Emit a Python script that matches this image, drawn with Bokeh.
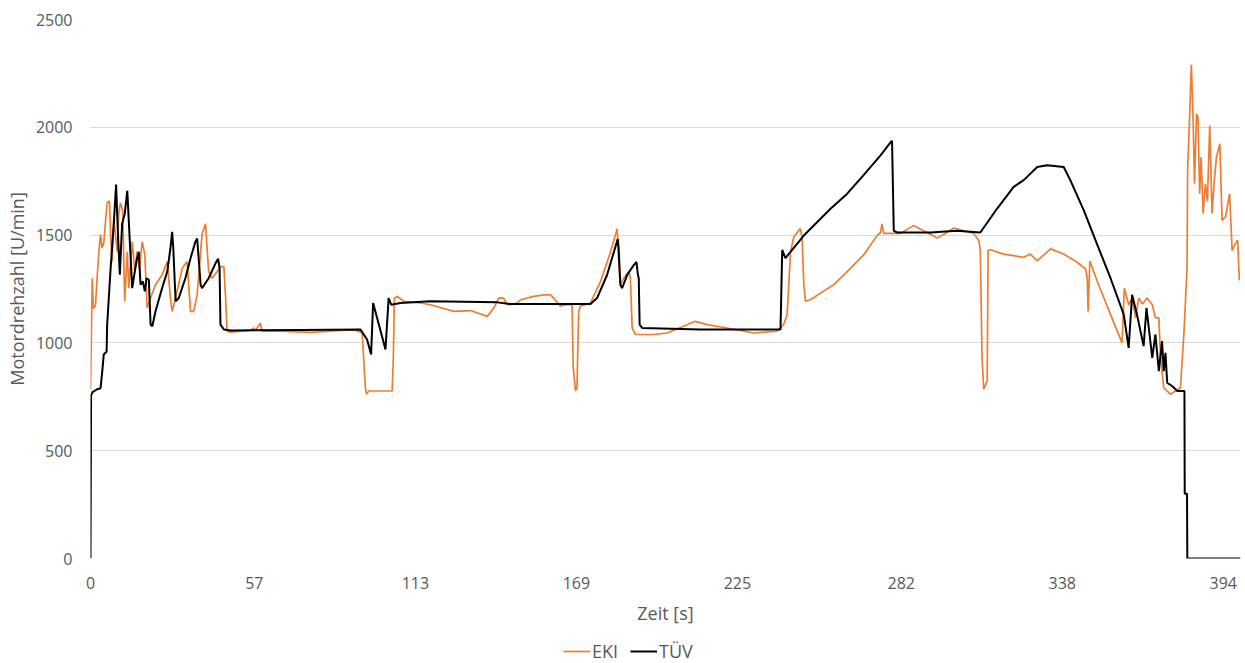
from bokeh.plotting import figure
from bokeh.models import Legend, LegendItem, FixedTicker, Range1d
from bokeh.layouts import column
from bokeh.embed import file_html
from bokeh.resources import INLINE

# Engine speed over time, two measurement sources
eki_time = [0.0, 0.6, 1.0, 1.7, 2.3, 2.9, 3.5, 4.0, 4.6, 5.2, 5.8, 6.6, 7.0, 7.5, 8.1, 8.7,
            9.3, 9.8, 10.4, 11.2, 11.9, 12.8, 13.3, 14.5, 15.4, 16.2, 17.0, 18.0, 18.9, 19.7,
            20.9, 22.6, 24.9, 26.7, 27.8, 28.4, 29.6, 31.9, 33.6, 34.8, 35.9, 37.1, 38.8, 40.0,
            41.1, 42.3, 44.1, 45.2, 46.4, 47.0, 47.5, 48.7, 52.2, 55.6, 56.8, 57.4, 59.1, 59.7,
            66.1, 76.5, 83.5, 91.6, 94.5, 95.6, 96.0, 96.8, 104.9, 105.3, 105.7, 106.7, 109.0,
            114.8, 118.2, 126.4, 132.2, 138.0, 140.3, 142.0, 143.7, 144.9, 147.8, 149.6, 154.2,
            157.7, 160.0, 161.1, 163.5, 165.2, 167.5, 167.9, 168.7, 169.2, 169.8, 170.4, 173.9,
            177.4, 180.9, 183.2, 183.7, 184.3, 185.5, 187.2, 187.8, 188.4, 189.6, 195.9, 200.6,
            206.3, 210.4, 214.5, 221.4, 230.7, 238.8, 241.1, 242.3, 243.5, 244.6, 246.9, 247.5,
            248.1, 248.7, 250.4, 253.9, 258.5, 263.2, 268.9, 273.6, 274.8, 275.3, 275.9, 281.7,
            286.3, 289.8, 294.5, 296.8, 300.3, 303.8, 307.2, 309.0, 309.5, 310.1, 310.7, 311.9,
            312.2, 313.0, 317.6, 324.6, 326.9, 329.3, 333.9, 338.5, 343.2, 346.1, 346.7, 347.0,
            347.6, 350.1, 354.8, 358.8, 359.6, 361.1, 362.3, 363.5, 364.6, 365.9, 367.5, 369.3,
            370.4, 371.6, 372.2, 373.3, 375.6, 379.1, 380.3, 381.4, 381.6, 382.3, 382.9, 383.5,
            384.0, 384.7, 385.2, 385.8, 386.3, 387.0, 387.8, 388.5, 389.3, 390.1, 390.9, 391.6,
            392.8, 393.6, 394.8, 396.2, 397.1, 398.2, 399.0, 399.6]
eki_rpm = [783, 1300, 1160, 1170, 1300, 1423, 1502, 1440, 1462, 1560, 1650, 1658, 1502, 1377, 1566, 1500,
           1423, 1597, 1650, 1612, 1193, 1423, 1254, 1470, 1331, 1423, 1346, 1470, 1408, 1162,
           1208, 1270, 1316, 1377, 1208, 1146, 1208, 1346, 1377, 1146, 1146, 1223, 1504, 1553,
           1331, 1300, 1331, 1354, 1354, 1208, 1054, 1050, 1055, 1058, 1069, 1058, 1092, 1054,
           1055, 1049, 1055, 1062, 1046, 792, 762, 777, 777, 908, 1208, 1215, 1193,
           1185, 1177, 1146, 1150, 1123, 1162, 1208, 1208, 1177, 1180, 1200, 1216,
           1223, 1223, 1208, 1170, 1177, 1177, 885, 777, 790, 1146, 1170, 1185,
           1285, 1423, 1530, 1377, 1270, 1300, 1331, 1300, 1069, 1039, 1039, 1046,
           1077, 1100, 1085, 1069, 1046, 1054, 1085, 1131, 1423, 1490, 1530, 1490,
           1270, 1193, 1200, 1231, 1270, 1331, 1408, 1498, 1512, 1552, 1508, 1508,
           1544, 1520, 1486, 1504, 1533, 1520, 1508, 1474, 1428, 931, 785, 823,
           1428, 1432, 1412, 1397, 1412, 1380, 1436, 1412, 1374, 1343, 1300, 1146,
           1380, 1288, 1131, 1000, 1254, 1177, 1208, 1116, 1208, 1180, 1208, 1177,
           1116, 1116, 931, 792, 762, 792, 1039, 1346, 1800, 2048, 2290, 2048,
           1738, 2062, 2048, 1692, 1862, 1600, 1738, 1656, 2008, 1600, 1754, 1858,
           1924, 1568, 1585, 1692, 1428, 1460, 1476, 1290]

tuv_time = [0.0, 0.2, 0.7, 2.3, 3.5, 4.1, 4.6, 5.2, 5.6, 5.8, 7.0, 8.1, 8.9, 9.5, 10.2, 11.0,
            11.9, 12.8, 13.6, 14.5, 15.4, 16.2, 16.8, 17.4, 18.2, 18.9, 19.5, 20.3, 20.9, 21.5,
            22.6, 24.9, 26.7, 27.8, 28.4, 28.8, 29.6, 30.7, 33.0, 34.8, 36.5, 37.1, 38.3, 38.8,
            41.1, 43.5, 44.4, 44.9, 45.2, 46.4, 48.7, 73.0, 93.9, 96.2, 97.6, 98.3, 102.6, 103.7,
            104.6, 107.8, 118.2, 141.5, 146.1, 173.9, 176.2, 179.7, 183.2, 183.4, 183.7, 184.3,
            184.9, 186.7, 189.0, 189.9, 190.4, 190.7, 191.0, 191.9, 212.1, 240.0, 240.6, 241.7,
            248.1, 257.4, 263.2, 268.9, 274.8, 278.0, 278.8, 279.4, 280.6, 292.2, 301.4, 309.5,
            315.3, 321.1, 324.6, 329.3, 332.7, 338.5, 340.8, 345.5, 350.1, 354.8, 359.4, 361.1,
            362.3, 364.0, 366.3, 367.3, 369.3, 370.4, 371.6, 372.7, 373.3, 373.9, 374.5, 376.2,
            378.0, 380.5, 380.6, 381.4, 381.5, 400.0]
tuv_rpm = [0, 757, 772, 785, 790, 869, 946, 954, 960, 1085, 1346, 1553, 1735, 1520, 1316, 1553,
           1598, 1706, 1490, 1254, 1331, 1393, 1423, 1270, 1285, 1239, 1300, 1293, 1085, 1077,
           1146, 1254, 1331, 1439, 1515, 1439, 1193, 1208, 1300, 1393, 1470, 1484, 1270, 1254,
           1300, 1370, 1390, 1346, 1085, 1062, 1058, 1060, 1062, 1016, 946, 1185, 970, 1208,
           1177, 1185, 1193, 1188, 1180, 1180, 1208, 1316, 1474, 1482, 1439, 1270,
           1254, 1316, 1362, 1375, 1316, 1300, 1085, 1069, 1062, 1062, 1431, 1393,
           1498, 1622, 1692, 1778, 1870, 1925, 1938, 1520, 1512, 1512, 1520, 1512,
           1622, 1724, 1755, 1816, 1824, 1816, 1755, 1615, 1458, 1300, 1131, 977,
           1223, 1131, 985, 1162, 931, 1039, 869, 1008, 869, 954, 815, 800,
           777, 777, 300, 300, 0, 0]

x_ticks = [0, 57, 113, 169, 225, 282, 338, 394]
y_ticks = [0, 500, 1000, 1500, 2000, 2500]
series_names = ["EKI", "TÜV"]
series_colors = ["#ED7D31", "#000000"]
series_widths = [1.7, 2]

TEXT = "#595959"
FONT = "Open Sans"

p = figure(width=1245, height=637, output_backend="svg", toolbar_location=None,
           x_range=Range1d(0, 400), y_range=Range1d(0, 2500),
           min_border_left=90, min_border_right=5, min_border_top=19, min_border_bottom=79)
p.outline_line_color = None
p.background_fill_color = "white"
p.border_fill_color = "white"

p.line(eki_time, eki_rpm, line_color=series_colors[0], line_width=series_widths[0])
p.line(tuv_time, tuv_rpm, line_color=series_colors[1], line_width=series_widths[1])

# grid
p.xgrid.grid_line_color = None
p.ygrid.grid_line_color = "#D9D9D9"
p.ygrid.grid_line_width = 1

# axes
p.xaxis.ticker = FixedTicker(ticks=x_ticks)
p.yaxis.ticker = FixedTicker(ticks=y_ticks)
for ax in (p.xaxis[0], p.yaxis[0]):
    ax.axis_line_color = None
    ax.major_tick_line_color = None
    ax.minor_tick_line_color = None
    ax.major_tick_out = 0
    ax.major_tick_in = 0
    ax.minor_tick_out = 0
    ax.minor_tick_in = 0
    ax.major_label_text_font = FONT
    ax.major_label_text_font_size = "16px"
    ax.major_label_text_color = TEXT
    ax.axis_label_text_font = FONT
    ax.axis_label_text_font_size = "18px"
    ax.axis_label_text_font_style = "normal"
    ax.axis_label_text_color = TEXT

p.xaxis.axis_label = "Zeit [s]"
p.xaxis.major_label_standoff = 18
p.xaxis.axis_label_standoff = 9
p.yaxis.axis_label = "Motordrehzahl [U/min]"
p.yaxis.major_label_standoff = 18
p.yaxis.axis_label_standoff = 4

# legend strip underneath the chart; its lines sit outside the strip's
# visible range so only the legend keys show
lg = figure(width=1245, height=26, output_backend="svg", toolbar_location=None,
            x_range=Range1d(0, 400), y_range=Range1d(-20000, -10000),
            min_border_left=0, min_border_right=0, min_border_top=0, min_border_bottom=0)
lg.axis.visible = False
lg.grid.visible = False
lg.outline_line_color = None
lg.background_fill_color = "white"
lg.border_fill_color = "white"
keys = [lg.line(eki_time, eki_rpm, line_color=series_colors[0], line_width=series_widths[0]),
        lg.line(tuv_time, tuv_rpm, line_color=series_colors[1], line_width=series_widths[1])]

legend = Legend(items=[LegendItem(label=n, renderers=[r]) for n, r in zip(series_names, keys)],
                orientation="horizontal", location=(473, 0),
                glyph_width=27, glyph_height=16, label_height=16, label_standoff=2, spacing=12,
                padding=0, margin=0, border_line_color=None, background_fill_alpha=0,
                label_text_font=FONT, label_text_font_size="18px", label_text_color=TEXT)
lg.add_layout(legend, "center")

open("out.html", "w").write(file_html(column(p, lg, spacing=0), INLINE))
